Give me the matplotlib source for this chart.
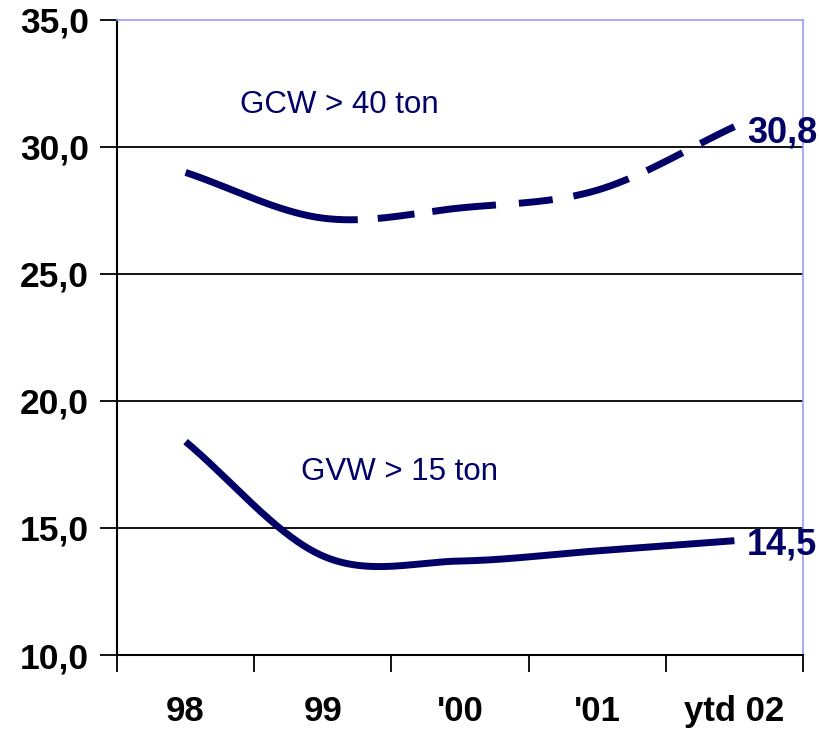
import numpy as np
import matplotlib
matplotlib.use("Agg")
import matplotlib.pyplot as plt

categories = ["98", "99", "'00", "'01", "ytd 02"]
gcw_values = [29.0, 27.2, 27.6, 28.3, 30.8]
gvw_values = [18.4, 13.9, 13.7, 14.1, 14.5]
gcw_label = "GCW > 40 ton"
gvw_label = "GVW > 15 ton"
y_ticks = [10, 15, 20, 25, 30, 35]

NAVY = "#000066"


def smooth(vals, n=60):
    """Excel-style smooth line (cardinal spline) through the data points."""
    p = np.asarray(vals, float)
    k = len(p)
    m = np.zeros(k)
    m[1:-1] = (p[2:] - p[:-2]) / 2.0
    m[0] = (p[1] - p[0])
    m[-1] = (p[-1] - p[-2])
    xs, ys = [], []
    for i in range(k - 1):
        t = np.linspace(0, 1, n, endpoint=(i == k - 2))
        h00 = 2 * t**3 - 3 * t**2 + 1
        h10 = t**3 - 2 * t**2 + t
        h01 = -2 * t**3 + 3 * t**2
        h11 = t**3 - t**2
        xs.append(i + t)
        ys.append(h00 * p[i] + h10 * m[i] + h01 * p[i + 1] + h11 * m[i + 1])
    return np.concatenate(xs), np.concatenate(ys)


plt.rcParams['font.family'] = ['Liberation Sans', 'DejaVu Sans']
plt.rcParams['lines.scale_dashes'] = False

fig = plt.figure(figsize=(8.2, 7.31), dpi=100)
ax = fig.add_axes([117 / 820, 76 / 731, (803 - 117) / 820, (655 - 20) / 731])

x = np.arange(len(categories))

gx, gy = smooth(gcw_values)
line_gcw, = ax.plot(gx, gy, color=NAVY, lw=5, solid_capstyle='butt',
                    dash_capstyle='butt', zorder=3)
px = 0.72
dash_px = [180, 20, 37, 18, 64, 23, 34, 21, 58, 20, 40, 20, 60, 20]
line_gcw.set_linestyle((0, [d * px for d in dash_px]))

vx, vy = smooth(gvw_values)
ax.plot(vx, vy, color=NAVY, lw=5, solid_capstyle='butt', zorder=3)

ax.set_xlim(-0.5, len(categories) - 0.5)
ax.set_ylim(10, 35)

ax.set_yticks(y_ticks)
ax.set_yticklabels([f"{v:.1f}".replace(".", ",") for v in y_ticks],
                   fontsize=25.5, fontweight='bold')
for yv in y_ticks[1:-1]:
    ax.axhline(yv, color='black', lw=1.3, zorder=1)

ax.set_xticks(np.arange(-0.5, len(categories)), labels=[""] * (len(categories) + 1))
ax.set_xticks(x, labels=categories, minor=True)
ax.tick_params(axis='x', which='minor', length=0, pad=29, labelsize=25)
for lab in ax.get_xticklabels(minor=True):
    lab.set_fontweight('bold')
ax.tick_params(axis='x', which='major', length=12, width=1.3, direction='out')
ax.tick_params(axis='y', length=12, width=1.3, direction='out', pad=8)

for s in ['left', 'bottom']:
    ax.spines[s].set_color('black')
    ax.spines[s].set_linewidth(1.5)
for s in ['top', 'right']:
    ax.spines[s].set_color('#9999ff')
    ax.spines[s].set_linewidth(1.2)

ax.text(1.12, 31.65, gcw_label, color=NAVY, fontsize=22.5, ha='center', va='center')
ax.text(1.56, 17.2, gvw_label, color=NAVY, fontsize=22.5, ha='center', va='center')
ax.text(4.09, gcw_values[-1] - 0.25, f"{gcw_values[-1]:.1f}".replace(".", ","),
        color=NAVY, fontsize=26, fontweight='bold', ha='left', va='center', clip_on=False)
ax.text(4.09, gvw_values[-1] - 0.15, f"{gvw_values[-1]:.1f}".replace(".", ","),
        color=NAVY, fontsize=26, fontweight='bold', ha='left', va='center', clip_on=False)

fig.savefig("out.png", dpi=100)
